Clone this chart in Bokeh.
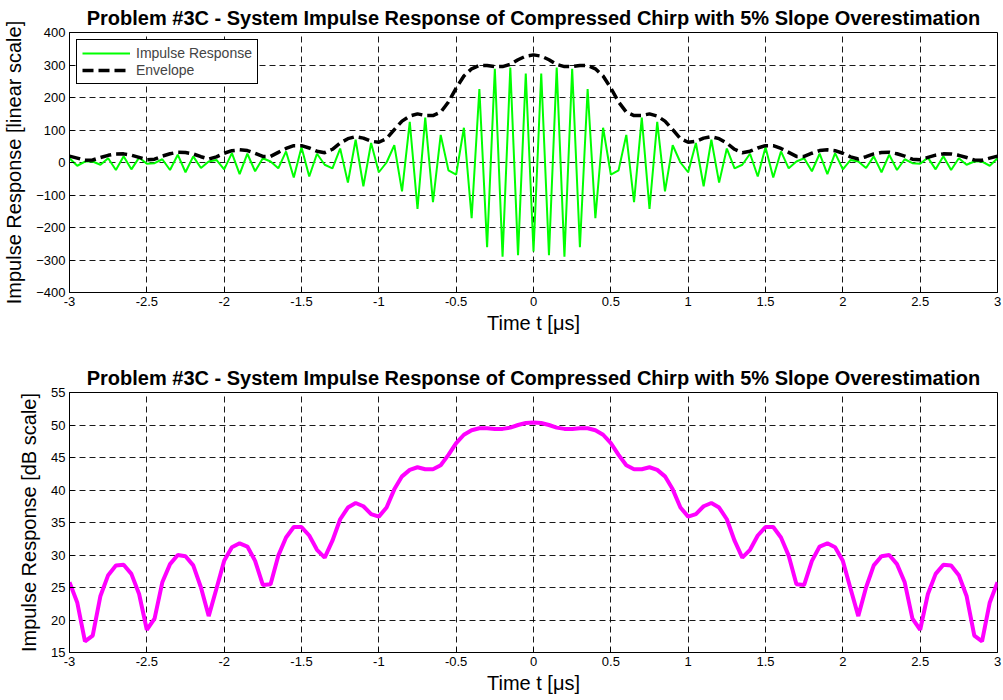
from bokeh.plotting import figure
from bokeh.layouts import column
from bokeh.models import FixedTicker, Range1d
from bokeh.embed import file_html
from bokeh.resources import INLINE

# ---------------- data ----------------
t_us = [round(-3 + 0.05 * i, 2) for i in range(121)]

impulse_response = [
    13, -10, 3, 3, -7, 13, -23, 19, -21, 15, -4, -2, 10, -23, 24, -30, 19, -17, 3, 8,
    -21, 29, -36, 27, -27, 13, 3, -18, 34, -46, 47, -43, 27, -7, -18, 43, -62, 70, -73, 60,
    -30, 0, 53, -89, 125, -143, 138, -122, 85, -24, -37, 107, -171, 226, -261, 288, -290, 292, -285, 274,
    -274,
    274, -285, 292, -290, 288, -261, 226, -171, 107, -37, -24, 85, -122, 138, -143, 125, -89, 53, 0, -30,
    60, -73, 70, -62, 43, -18, -7, 27, -43, 47, -46, 34, -18, 3, 13, -27, 27, -36, 29, -21,
    8, 3, -17, 19, -30, 24, -23, 10, -2, -4, 15, -21, 19, -23, 13, -7, 3, 3, -10, 13,
]

envelope = [
    19.5, 13.6, 6.8, 7.6, 15.3, 22.1, 26.3, 26.6, 22.6, 15.8, 8.4, 10.2, 19.5, 26.9, 31.6, 30.9, 26.3, 17.8, 10.7, 17.4,
    28.5, 36.3, 38.9, 36.7, 28.5, 18.6, 18.8, 31.3, 43.2, 51.9, 51.9, 44.7, 34.7, 30.2, 40.7, 59.6, 73.3, 79.4, 75.0, 65.3,
    62.4, 73.3, 101.2, 127.4, 142.9, 149.6, 144.5, 144.5, 154.9, 186.2, 229.1, 266.1, 288.4, 298.5, 298.5, 295.1, 295.1, 302.0, 316.2, 327.3,
    331.1,
    327.3, 316.2, 302.0, 295.1, 295.1, 298.5, 298.5, 288.4, 266.1, 229.1, 186.2, 154.9, 144.5, 144.5, 149.6, 142.9, 127.4, 101.2, 73.3, 62.4,
    65.3, 75.0, 79.4, 73.3, 59.6, 40.7, 30.2, 34.7, 44.7, 51.9, 51.9, 43.2, 31.3, 18.8, 18.6, 28.5, 36.7, 38.9, 36.3, 28.5,
    17.4, 10.7, 17.8, 26.3, 30.9, 31.6, 26.9, 19.5, 10.2, 8.4, 15.8, 22.6, 26.6, 26.3, 22.1, 15.3, 7.6, 6.8, 13.6, 19.5,
]

response_db = [
    25.8, 22.7, 16.7, 17.6, 23.7, 26.9, 28.4, 28.5, 27.1, 24.0, 18.5, 20.2, 25.8, 28.6, 30.0, 29.8, 28.4, 25.0, 20.6, 24.8,
    29.1, 31.2, 31.8, 31.3, 29.1, 25.4, 25.5, 29.9, 32.7, 34.3, 34.3, 33.0, 30.8, 29.6, 32.2, 35.5, 37.3, 38.0, 37.5, 36.3,
    35.9, 37.3, 40.1, 42.1, 43.1, 43.5, 43.2, 43.2, 43.8, 45.4, 47.2, 48.5, 49.2, 49.5, 49.5, 49.4, 49.4, 49.6, 50.0, 50.3,
    50.4,
    50.3, 50.0, 49.6, 49.4, 49.4, 49.5, 49.5, 49.2, 48.5, 47.2, 45.4, 43.8, 43.2, 43.2, 43.5, 43.1, 42.1, 40.1, 37.3, 35.9,
    36.3, 37.5, 38.0, 37.3, 35.5, 32.2, 29.6, 30.8, 33.0, 34.3, 34.3, 32.7, 29.9, 25.5, 25.4, 29.1, 31.3, 31.8, 31.2, 29.1,
    24.8, 20.6, 25.0, 28.4, 29.8, 30.0, 28.6, 25.8, 20.2, 18.5, 24.0, 27.1, 28.5, 28.4, 26.9, 23.7, 17.6, 16.7, 22.7, 25.8,
]

x_ticks = [-3, -2.5, -2, -1.5, -1, -0.5, 0, 0.5, 1, 1.5, 2, 2.5, 3]
x_tick_labels = ["-3", "-2.5", "-2", "-1.5", "-1", "-0.5", "0", "0.5", "1", "1.5", "2", "2.5", "3"]
y_ticks_lin = [-400, -300, -200, -100, 0, 100, 200, 300, 400]
y_ticks_db = [15, 20, 25, 30, 35, 40, 45, 50, 55]

title_text = "Problem #3C - System Impulse Response of Compressed Chirp with 5% Slope Overestimation"
FONT = "Liberation Sans"


def make_fig(ylabel, yr, yticks, border_top, border_bottom):
    p = figure(width=1003, height=350, x_range=Range1d(-3, 3), y_range=Range1d(*yr),
               output_backend="svg", toolbar_location=None,
               min_border_left=69, min_border_right=6,
               min_border_top=border_top, min_border_bottom=border_bottom)
    p.background_fill_color = "white"
    p.border_fill_color = "white"
    p.outline_line_color = "black"
    p.outline_line_width = 1
    p.outline_line_alpha = 1

    p.title.text = title_text
    p.title.align = "center"
    p.title.text_font = FONT
    p.title.text_font_size = "20px"
    p.title.text_font_style = "bold"
    p.title.text_color = "black"
    p.title.standoff = 7

    p.xaxis.ticker = FixedTicker(ticks=x_ticks)
    p.xaxis.major_label_overrides = {float(k): v for k, v in zip(x_ticks, x_tick_labels)}
    p.yaxis.ticker = FixedTicker(ticks=yticks)
    p.xaxis.axis_label = "Time t [μs]"
    p.yaxis.axis_label = ylabel
    for ax in (p.xaxis, p.yaxis):
        ax.axis_label_text_font = FONT
        ax.axis_label_text_font_size = "20px"
        ax.axis_label_text_font_style = "normal"
        ax.axis_label_text_color = "black"
        ax.major_label_text_font = FONT
        ax.major_label_text_font_size = "13px"
        ax.major_label_text_color = "black"
        ax.axis_line_color = "black"
        ax.major_tick_line_color = "black"
        ax.major_tick_in = 5
        ax.major_tick_out = 0
        ax.minor_tick_line_color = None
        ax.major_label_standoff = 4
    p.xaxis.axis_label_standoff = 3
    p.yaxis.axis_label_standoff = 8

    p.grid.grid_line_color = "black"
    p.grid.grid_line_alpha = 0.9
    p.grid.grid_line_dash = "6 4"
    p.grid.grid_line_width = 1
    return p


p1 = make_fig("Impulse Response [linear scale]", (-400, 400), y_ticks_lin, 32, 58)
p1.line(t_us, impulse_response, line_color="#00FF00", line_width=2, legend_label="Impulse Response")
p1.line(t_us, envelope, line_color="black", line_width=3.5, line_dash="11 5", legend_label="Envelope")
p1.legend.location = "top_left"
p1.legend.margin = 7
p1.legend.padding = 5
p1.legend.spacing = 1
p1.legend.glyph_width = 48
p1.legend.glyph_height = 16
p1.legend.label_height = 16
p1.legend.label_standoff = 6
p1.legend.label_text_font = FONT
p1.legend.label_text_font_size = "14px"
p1.legend.border_line_color = "black"
p1.legend.border_line_alpha = 1
p1.legend.background_fill_alpha = 1

p2 = make_fig("Impulse Response [dB scale]", (15, 55), y_ticks_db, 42, 48)
p2.line(t_us, response_db, line_color="#FF00FF", line_width=4)

layout = column(p1, p2, spacing=0)
open("out.html", "w").write(file_html(layout, INLINE))
